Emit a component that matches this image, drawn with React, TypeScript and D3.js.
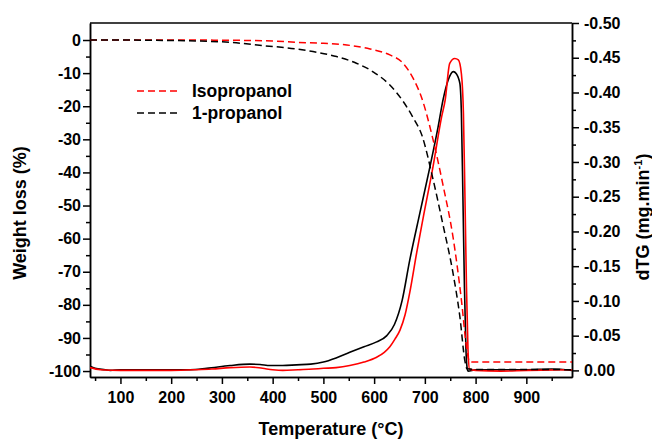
import { useEffect, useRef } from 'react';
import * as d3 from 'd3';

type Pt = [number, number];

// TG curves, weight loss (%) against temperature (°C)
const isoTG: Pt[] = [
  [40, 0], [200, 0], [300, -0.05], [400, -0.3], [447, -0.7], [500, -1.0], [546, -1.5],
  [592, -2.7], [631, -4.5], [657, -7], [677, -11.6], [694, -17.6], [716, -30], [736, -44],
  [756, -60], [772, -78.5], [782, -92.6], [788, -97.2], [800, -97.3], [990, -97.3],
];
const propTG: Pt[] = [
  [40, 0], [100, 0], [150, -0.05], [200, -0.15], [250, -0.3], [316, -0.7], [381, -1.7],
  [447, -2.7], [487, -3.7], [526, -5.0], [565, -7.0], [598, -9.6], [631, -13.6], [657, -18.5],
  [677, -23.5], [694, -28.7], [716, -42], [736, -56], [755, -70], [769, -83.6], [779, -97],
  [783, -99.3], [800, -99.5], [900, -99.5], [990, -99.6],
];

// dTG curves (mg.min-1)
const isoDTG: Pt[] = [
  [40, -0.004], [60, -0.001], [100, 0], [150, 0], [200, 0], [250, -0.001], [280, -0.002],
  [316, -0.004], [355, -0.005], [380, -0.003], [400, -0.001], [420, 0], [450, -0.001], [480, -0.002],
  [500, -0.003], [525, -0.004], [552, -0.007], [580, -0.012], [605, -0.019], [620, -0.026],
  [631, -0.034], [641, -0.045], [651, -0.058], [661, -0.08], [671, -0.115], [684, -0.17],
  [697, -0.221], [716, -0.293], [733, -0.365], [740, -0.389], [749, -0.442], [759, -0.449],
  [766, -0.447], [772, -0.427], [776, -0.37], [779, -0.25], [782, -0.12], [785, -0.03],
  [788, -0.002], [800, 0], [850, 0.001], [900, 0], [990, -0.001],
];
const propDTG: Pt[] = [
  [40, -0.006], [50, -0.003], [70, -0.001], [80, 0], [100, -0.001], [150, -0.001], [200, -0.001],
  [237, -0.001], [270, -0.003], [316, -0.007], [355, -0.009], [375, -0.0085], [395, -0.007],
  [420, -0.007], [447, -0.008], [475, -0.009], [500, -0.012], [525, -0.018], [552, -0.026],
  [580, -0.034], [605, -0.041], [625, -0.05], [640, -0.066], [655, -0.1], [670, -0.158],
  [690, -0.226], [710, -0.293], [726, -0.35], [736, -0.39], [746, -0.418], [756, -0.43],
  [762, -0.427], [769, -0.413], [772, -0.37], [775, -0.25], [778, -0.12], [781, -0.03],
  [783, -0.005], [785, 0.001], [800, -0.001], [850, -0.001], [900, -0.001], [950, -0.002], [990, 0],
];

const xTicks = [100, 200, 300, 400, 500, 600, 700, 800, 900];
const xMinor = [50, 150, 250, 350, 450, 550, 650, 750, 850, 950];
const yTicks = [0, -10, -20, -30, -40, -50, -60, -70, -80, -90, -100];
const yMinor = [-5, -15, -25, -35, -45, -55, -65, -75, -85, -95];
const y2Ticks = [0, -0.05, -0.1, -0.15, -0.2, -0.25, -0.3, -0.35, -0.4, -0.45, -0.5];
const y2Minor = [-0.025, -0.075, -0.125, -0.175, -0.225, -0.275, -0.325, -0.375, -0.425, -0.475];

const series = [
  { name: 'Isopropanol', color: '#ff0000', tg: isoTG, dtg: isoDTG },
  { name: '1-propanol', color: '#000000', tg: propTG, dtg: propDTG },
];

const FONT = '"Liberation Sans", Arial, sans-serif';

function App() {
  const svgRef = useRef<SVGSVGElement>(null);

  useEffect(() => {
    const W = 652;
    const H = 439;
    const left = 90, right = 572, top = 23, bottom = 377;

    const svg = d3.select(svgRef.current);
    svg.selectAll('*').remove();
    svg.attr('width', W).attr('height', H).style('font-family', FONT);

    const x = d3.scaleLinear().domain([40, 990]).range([left, right]);
    const y = d3.scaleLinear().domain([-101.8, 5.14]).range([bottom, top]);
    const y2 = d3.scaleLinear().domain([0.0095, -0.5]).range([bottom, top]);

    svg.append('defs').append('clipPath').attr('id', 'plot')
      .append('rect').attr('x', left).attr('y', top)
      .attr('width', right - left).attr('height', bottom - top);

    const styleAxis = (g: any) => {
      g.select('.domain').attr('stroke-width', 1.5);
      g.selectAll('.tick line').attr('stroke-width', 1.5);
      g.selectAll('text').attr('font-size', 16).attr('font-weight', 'bold').attr('fill', '#000')
        .attr('font-family', FONT);
    };

    // minor ticks
    svg.append('g').attr('transform', `translate(0,${bottom})`)
      .call(d3.axisBottom(x).tickValues(xMinor).tickSize(4).tickFormat(() => '').tickSizeOuter(0))
      .call(styleAxis);
    svg.append('g').attr('transform', `translate(${left},0)`)
      .call(d3.axisLeft(y).tickValues(yMinor).tickSize(4).tickFormat(() => '').tickSizeOuter(0))
      .call(styleAxis);
    svg.append('g').attr('transform', `translate(${right},0)`)
      .call(d3.axisRight(y2).tickValues(y2Minor).tickSize(4).tickFormat(() => '').tickSizeOuter(0))
      .call(styleAxis);

    // major ticks
    svg.append('g').attr('transform', `translate(0,${bottom})`)
      .call(d3.axisBottom(x).tickValues(xTicks).tickSize(7).tickPadding(8).tickSizeOuter(0)
        .tickFormat((d: any) => String(d)))
      .call(styleAxis);
    svg.append('g').attr('transform', `translate(${left},0)`)
      .call(d3.axisLeft(y).tickValues(yTicks).tickSize(7).tickPadding(2).tickSizeOuter(0)
        .tickFormat((d: any) => String(d)))
      .call(styleAxis);
    svg.append('g').attr('transform', `translate(${right},0)`)
      .call(d3.axisRight(y2).tickValues(y2Ticks).tickSize(7).tickPadding(5).tickSizeOuter(0)
        .tickFormat((d: any) => (Math.abs(d) < 1e-9 ? '0.00' : (+d).toFixed(2))))
      .call(styleAxis);

    // top frame
    svg.append('line').attr('x1', left).attr('x2', right).attr('y1', top).attr('y2', top)
      .attr('stroke', '#000').attr('stroke-width', 1.5);

    const plot = svg.append('g').attr('clip-path', 'url(#plot)');

    const lineTG = d3.line<Pt>().x(d => x(d[0])).y(d => y(d[1])).curve(d3.curveMonotoneX);
    const lineDTG = d3.line<Pt>().x(d => x(d[0])).y(d => y2(d[1])).curve(d3.curveMonotoneX);

    [...series].reverse().forEach(s => {
      plot.append('path').attr('d', lineDTG(s.dtg)).attr('fill', 'none')
        .attr('stroke', s.color).attr('stroke-width', 1.6);
    });
    series.forEach(s => {
      plot.append('path').attr('d', lineTG(s.tg)).attr('fill', 'none')
        .attr('stroke', s.color).attr('stroke-width', 1.5).attr('stroke-dasharray', '7,4');
    });

    // legend
    const legend = svg.append('g');
    series.forEach((s, i) => {
      const ly = 91 + i * 22;
      legend.append('line').attr('x1', 137).attr('x2', 181).attr('y1', ly).attr('y2', ly)
        .attr('stroke', s.color).attr('stroke-width', 1.5).attr('stroke-dasharray', '7,4');
      legend.append('text').attr('x', 192).attr('y', ly + 6).text(s.name)
        .attr('font-size', 17.5).attr('font-weight', 'bold');
    });

    // axis titles
    svg.append('text').attr('x', (left + right) / 2).attr('y', 435).attr('text-anchor', 'middle')
      .attr('font-size', 18).attr('font-weight', 'bold').text('Temperature (°C)');
    svg.append('text').attr('transform', `translate(26,213) rotate(-90)`).attr('text-anchor', 'middle')
      .attr('font-size', 18).attr('font-weight', 'bold').text('Weight loss (%)');
    const t2 = svg.append('text').attr('transform', `translate(649,217) rotate(-90)`)
      .attr('text-anchor', 'middle').attr('font-size', 18).attr('font-weight', 'bold');
    t2.append('tspan').text('dTG (mg.min');
    t2.append('tspan').text('-1').attr('font-size', 11).attr('dy', -7);
    t2.append('tspan').text(')').attr('dy', 7);
  }, []);

  return <svg ref={svgRef} style={{ position: 'absolute', left: 0, top: 0 }} />;
}

export default App;
